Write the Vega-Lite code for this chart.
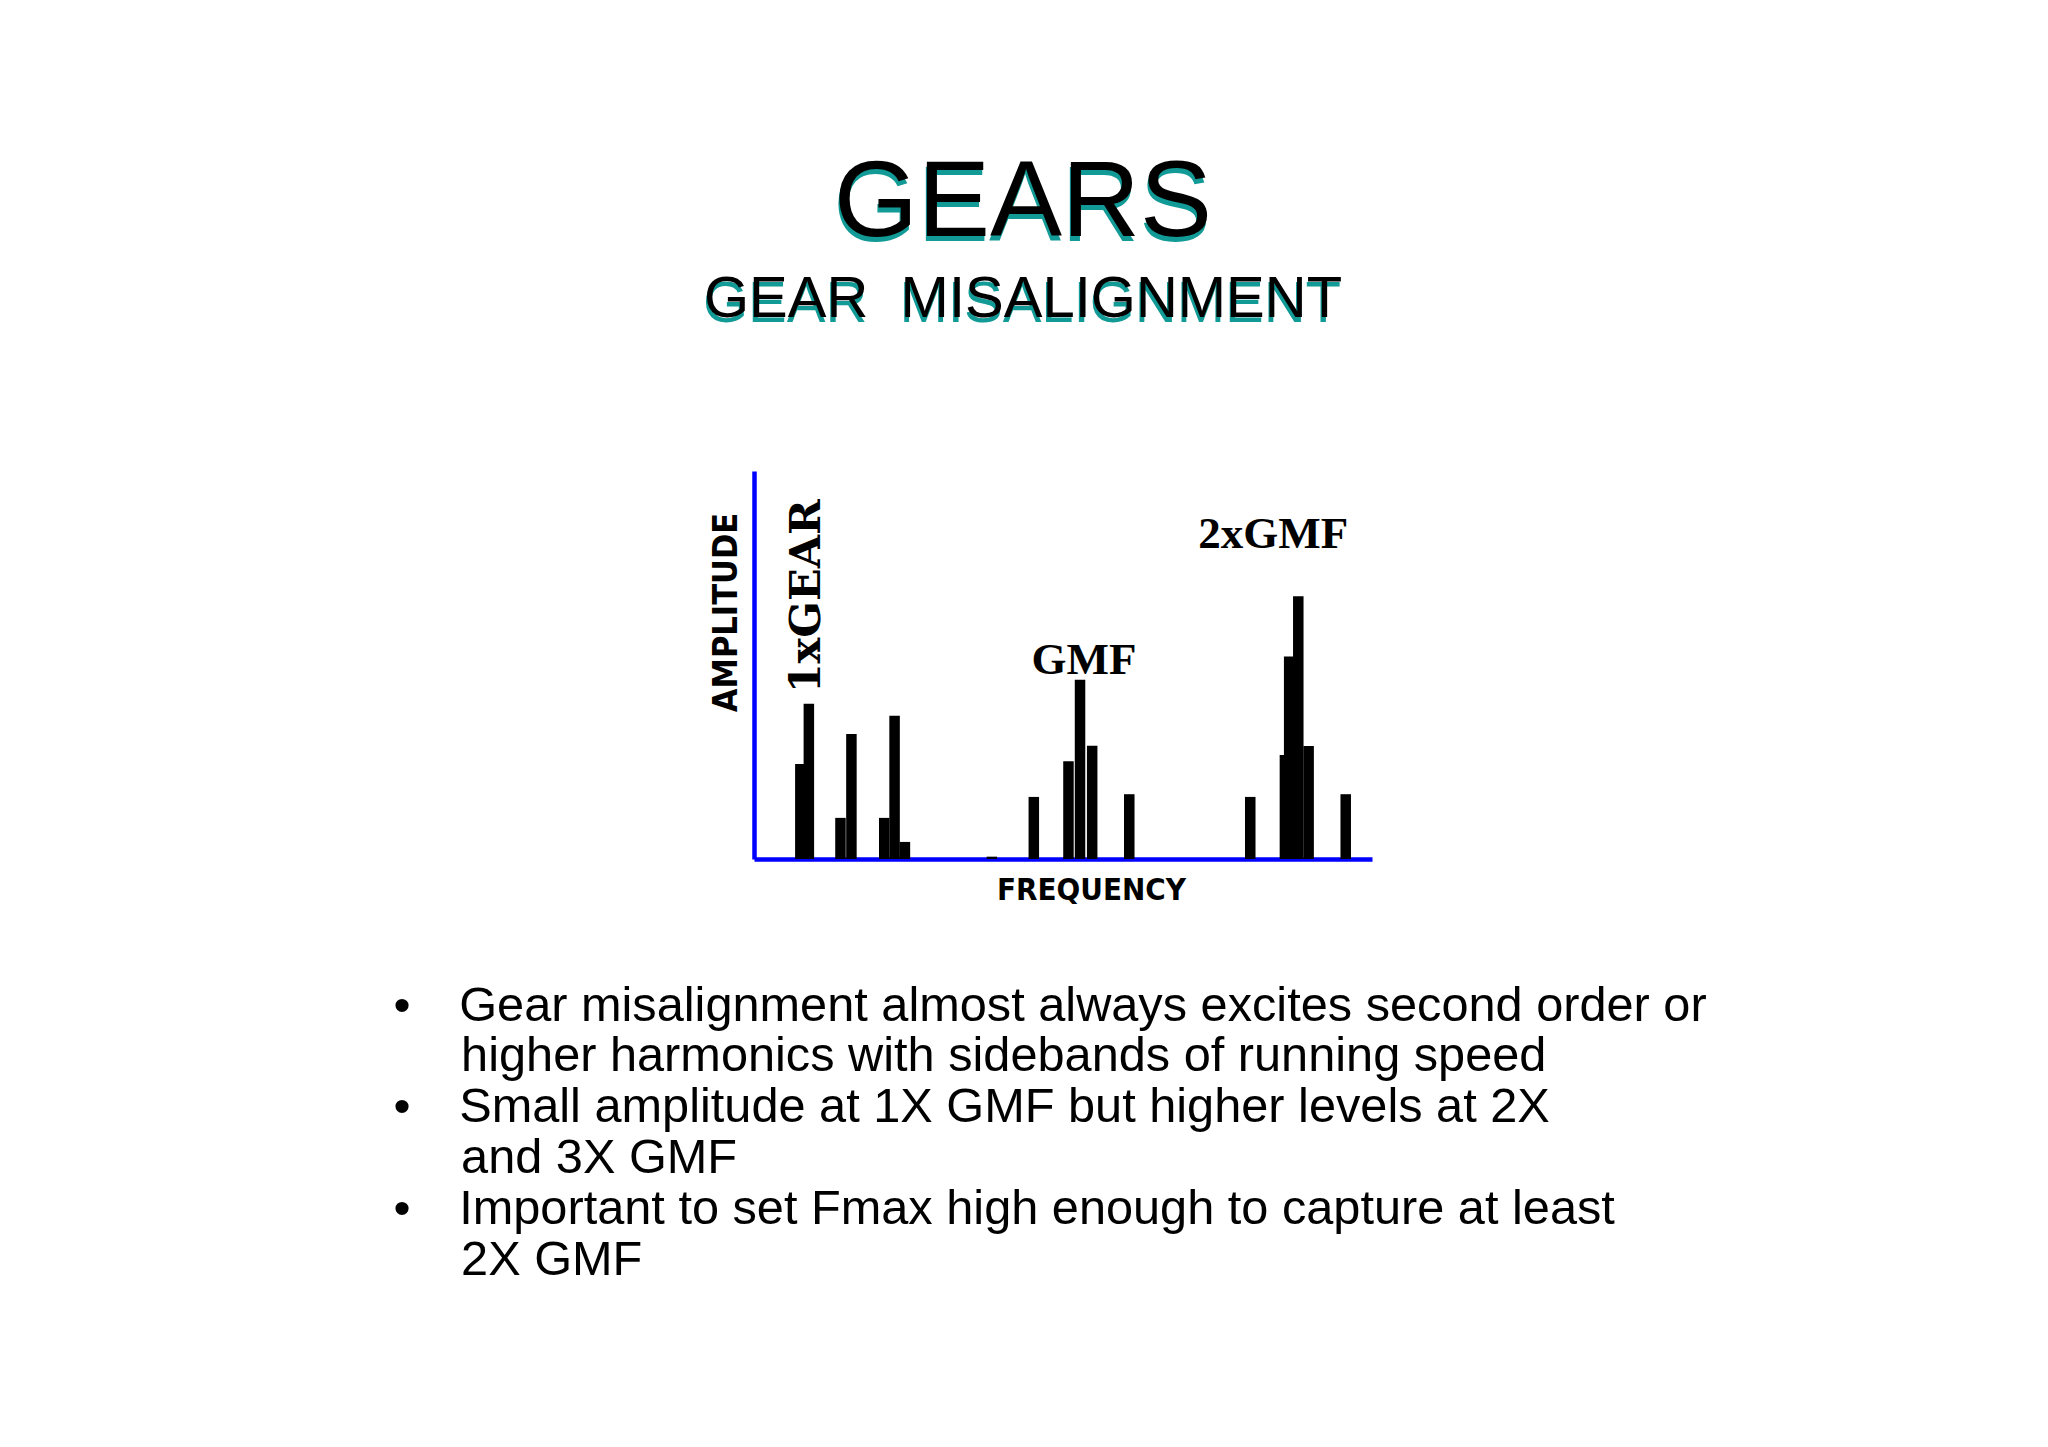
{
  "$schema": "https://vega.github.io/schema/vega-lite/v6.json",
  "background": "white",
  "autosize": {"type": "pad"},
  "padding": {"left": 393, "top": 150, "right": 0, "bottom": 0},
  "config": {"view": {"stroke": null}, "concat": {"spacing": 0}},
  "title": {
    "text": "GEARS",
    "subtitle": "GEAR\u00a0\u00a0MISALIGNMENT",
    "color": "black",
    "subtitleColor": "black",
    "font": "Liberation Sans",
    "subtitleFont": "Liberation Sans",
    "fontSize": 108,
    "subtitleFontSize": 58,
    "fontWeight": "normal",
    "subtitleFontWeight": "normal",
    "subtitlePadding": 12,
    "anchor": "middle",
    "offset": -175,
    "dx": -27
  },
  "vconcat": [
    {
      "title": {
        "text": [
          "•\u2003Gear misalignment almost always excites second order or",
          "\u200b\u00a0\u00a0\u00a0\u00a0\u00a0higher harmonics with sidebands of running speed",
          "•\u2003Small amplitude at 1X GMF but higher levels at 2X",
          "\u200b\u00a0\u00a0\u00a0\u00a0\u00a0and 3X GMF",
          "•\u2003Important to set Fmax high enough to capture at least",
          "\u200b\u00a0\u00a0\u00a0\u00a0\u00a02X GMF"
        ],
        "orient": "bottom",
        "anchor": "start",
        "align": "left",
        "font": "Liberation Sans",
        "fontSize": 48.7,
        "fontWeight": "normal",
        "color": "black",
        "lineHeight": 50.9,
        "offset": 77.5,
        "dx": -309.5
      },
      "vconcat": [
        {
          "width": 618,
          "height": 388,
          "title": {
            "text": "GEARS",
            "subtitle": "GEAR\u00a0\u00a0MISALIGNMENT",
            "color": "#129a96",
            "subtitleColor": "#129a96",
            "font": "Liberation Sans",
            "subtitleFont": "Liberation Sans",
            "fontSize": 108,
            "subtitleFontSize": 58,
            "fontWeight": "normal",
            "subtitleFontWeight": "normal",
            "subtitlePadding": 12,
            "anchor": "middle",
            "offset": 136,
            "dx": -41
          },
          "data": {
            "values": [
              {"frequency": 6.8, "amplitude": 24.5, "label": null},
              {"frequency": 8.2, "amplitude": 40.0, "label": "1xGEAR"},
              {"frequency": 13.4, "amplitude": 10.6, "label": null},
              {"frequency": 15.2, "amplitude": 32.2, "label": null},
              {"frequency": 20.6, "amplitude": 10.6, "label": null},
              {"frequency": 22.3, "amplitude": 36.9, "label": null},
              {"frequency": 24.0, "amplitude": 4.4, "label": null},
              {"frequency": 38.3, "amplitude": 0.6, "label": null},
              {"frequency": 45.2, "amplitude": 16.0, "label": null},
              {"frequency": 50.9, "amplitude": 25.2, "label": null},
              {"frequency": 52.8, "amplitude": 46.2, "label": "GMF"},
              {"frequency": 54.8, "amplitude": 29.2, "label": null},
              {"frequency": 60.9, "amplitude": 16.7, "label": null},
              {"frequency": 80.8, "amplitude": 16.0, "label": null},
              {"frequency": 86.5, "amplitude": 26.8, "label": null},
              {"frequency": 87.2, "amplitude": 52.2, "label": null},
              {"frequency": 88.7, "amplitude": 67.7, "label": "2xGMF"},
              {"frequency": 90.4, "amplitude": 29.1, "label": null},
              {"frequency": 96.5, "amplitude": 16.7, "label": null}
            ]
          },
          "encoding": {
            "x": {
              "field": "frequency",
              "type": "quantitative",
              "scale": {"domain": [0, 100], "nice": false, "zero": false},
              "axis": {
                "title": "FREQUENCY",
                "domainColor": "#0000ff",
                "domainWidth": 4.5,
                "ticks": false,
                "labels": false,
                "grid": false,
                "zindex": 0,
                "titleFont": "Liberation Sans Narrow, DejaVu Sans Condensed, sans-serif",
                "titleFontSize": 31,
                "titleFontWeight": "bold",
                "titleColor": "black",
                "titleX": 337,
                "titleY": 40,
                "titleAlign": "center",
                "titleBaseline": "alphabetic"
              }
            },
            "y": {
              "field": "amplitude",
              "type": "quantitative",
              "scale": {"domain": [0, 100], "nice": false},
              "axis": {
                "title": "AMPLITUDE",
                "domainColor": "#0000ff",
                "domainWidth": 4.5,
                "ticks": false,
                "labels": false,
                "grid": false,
                "zindex": 0,
                "titleFont": "Liberation Sans Narrow, DejaVu Sans Condensed, sans-serif",
                "titleFontSize": 34,
                "titleFontWeight": "bold",
                "titleColor": "black",
                "titleAngle": 270,
                "titleX": -28,
                "titleY": 141,
                "titleAlign": "center",
                "titleBaseline": "middle"
              }
            }
          },
          "layer": [
            {"mark": {"type": "bar", "color": "black", "size": 10.5, "opacity": 1}},
            {
              "transform": [{"filter": "datum.label === '1xGEAR'"}],
              "mark": {"type": "text", "angle": 270, "align": "left", "baseline": "middle", "dx": 10.5, "dy": -2, "font": "DejaVu Serif", "fontWeight": "bold", "fontSize": 43, "color": "black"},
              "encoding": {"text": {"field": "label"}}
            },
            {
              "transform": [{"filter": "datum.label === 'GMF'"}],
              "mark": {"type": "text", "align": "center", "baseline": "alphabetic", "dx": 4, "dy": -6, "font": "Liberation Serif", "fontWeight": "bold", "fontSize": 45, "color": "black"},
              "encoding": {"text": {"field": "label"}}
            },
            {
              "transform": [{"filter": "datum.label === '2xGMF'"}],
              "mark": {"type": "text", "align": "center", "baseline": "alphabetic", "dx": -25, "dy": -48, "font": "Liberation Serif", "fontWeight": "bold", "fontSize": 45, "color": "black"},
              "encoding": {"text": {"field": "label"}}
            }
          ]
        }
      ]
    }
  ]
}
